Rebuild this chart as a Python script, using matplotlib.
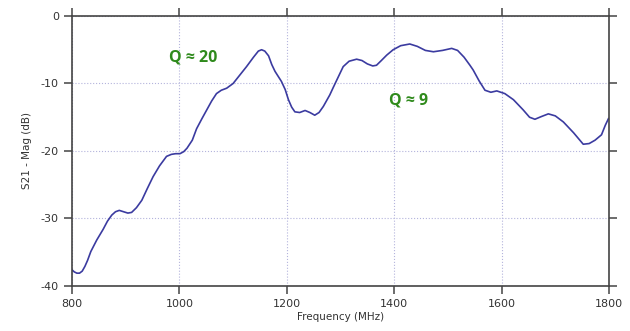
import matplotlib
matplotlib.use('Agg')
from matplotlib import pyplot as plt

plt.rcParams['axes.unicode_minus'] = False

# values
freq_mhz = [800, 804, 809, 814, 819, 824, 829, 835, 846, 858, 866, 874, 881, 888,
            896, 904, 911, 920, 930, 940, 951, 963, 976, 985, 993, 1001, 1008,
            1014, 1024, 1032, 1042, 1051, 1060, 1069, 1078, 1088, 1100, 1112, 1125,
            1138, 1147, 1153, 1159, 1166, 1172, 1178, 1190, 1197, 1203, 1209, 1215,
            1224, 1234, 1243, 1252, 1260, 1268, 1280, 1287, 1296, 1305, 1316, 1330,
            1340, 1350, 1360, 1367, 1376, 1386, 1398, 1412, 1429, 1443, 1458, 1473,
            1490, 1507, 1518, 1530, 1541, 1547, 1558, 1569, 1580, 1591, 1606, 1622,
            1640, 1652, 1662, 1674, 1687, 1700, 1715, 1734, 1752, 1763, 1774, 1786,
            1793, 1799]
s21_db = [-37.6, -37.9, -38.1, -38.1, -37.8, -37.1, -36.2, -34.9, -33.2, -31.6,
          -30.4, -29.5, -29.0, -28.8, -29.0, -29.2, -29.1, -28.4, -27.3, -25.6,
          -23.8, -22.2, -20.8, -20.5, -20.4, -20.4, -20.1, -19.6, -18.4, -16.7,
          -15.2, -13.9, -12.6, -11.5, -11.0, -10.7, -10.0, -8.8, -7.5, -6.1, -5.2,
          -5.0, -5.2, -5.9, -7.2, -8.2, -9.7, -10.9, -12.4, -13.5, -14.2, -14.3,
          -14.0, -14.3, -14.7, -14.3, -13.4, -11.7, -10.5, -9.0, -7.5, -6.7, -6.4,
          -6.6, -7.1, -7.4, -7.3, -6.6, -5.8, -5.0, -4.4, -4.15, -4.5, -5.1, -5.3,
          -5.1, -4.8, -5.1, -6.1, -7.3, -8.0, -9.6, -11.0, -11.3, -11.1, -11.5,
          -12.4, -13.9, -15.0, -15.3, -14.9, -14.5, -14.8, -15.7, -17.3, -19.0,
          -18.9, -18.4, -17.6, -16.2, -15.2]

x_ticks = [800, 1000, 1200, 1400, 1600, 1800]
y_ticks = [0, -10, -20, -30, -40]

notas = [('Q ≈ 20', 1025, -6.1), ('Q ≈ 9', 1427, -12.5)]

azul = '#3b3ba0'
verde = '#2f8a1c'
cinza = '#444444'

fig = plt.figure(figsize=(6.3, 3.31), dpi=100)
ax = fig.add_axes([0.1143, 0.136, 0.8524, 0.8157])

ax.plot(freq_mhz, s21_db, color=azul, linewidth=1.2)

ax.set_xlim(800, 1800)
ax.set_ylim(-40, 0)
ax.set_xticks(x_ticks)
ax.set_yticks(y_ticks)
ax.grid(True, color='#b4b4dc', linestyle=':', linewidth=0.8)

for lado in ['left', 'right', 'top', 'bottom']:
    ax.spines[lado].set_color(cinza)
    ax.spines[lado].set_linewidth(1.2)

ax.tick_params(axis='both', direction='out', length=6, width=1.1, color=cinza,
               labelsize=8, labelcolor='#333333',
               top=True, right=True, labeltop=False, labelright=False)

ax.set_xlabel('Frequency (MHz)', fontsize=7.5, color='#333333', labelpad=2)
ax.set_ylabel('S21 - Mag (dB)', fontsize=7.5, color='#333333', labelpad=6)

for texto, fx, fy in notas:
    ax.text(fx, fy, texto, color=verde, fontsize=11.5, fontweight='bold',
            family='Open Sans', ha='center', va='center')

fig.savefig('out.png', dpi=100)
